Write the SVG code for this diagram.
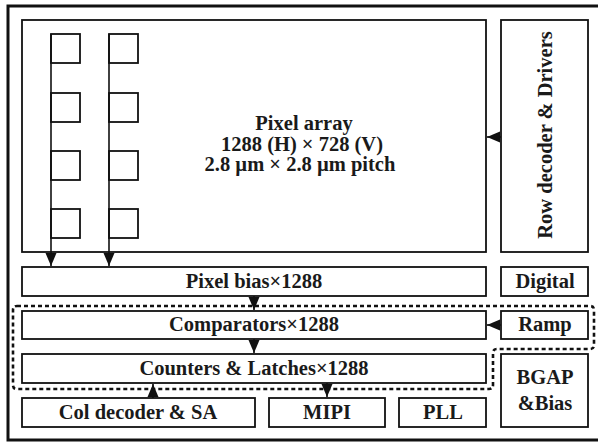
<svg xmlns="http://www.w3.org/2000/svg" width="598" height="443" viewBox="0 0 598 443">
<style>
.box{fill:#fff;stroke:#111;stroke-width:1.8}
.px{fill:none;stroke:#111;stroke-width:1.8}
.lbl{font-family:"Liberation Serif","Times New Roman",serif;font-weight:bold;font-size:20.5px;fill:#1a1a1a;text-anchor:middle}
.conn{stroke:#111;stroke-width:1.6;fill:none}
</style>
<defs>
<marker id="ah" markerUnits="userSpaceOnUse" markerWidth="13" markerHeight="12" viewBox="0 0 13 12" refX="13" refY="6" orient="auto">
<path d="M0,0.5 L13,6 L0,11.5 Z" fill="#111"/>
</marker>
</defs>
<rect x="0" y="0" width="598" height="443" fill="#fff"/>
<rect id="frame" x="8" y="6" width="600" height="434" fill="none" stroke="#111" stroke-width="3"/>

<g id="pixel-array">
<rect class="box" x="22" y="20" width="464" height="232"/>
<g class="px">
<rect x="51" y="34" width="29" height="29"/><rect x="109" y="34" width="29" height="29"/>
<rect x="51" y="93" width="29" height="29"/><rect x="109" y="93" width="29" height="29"/>
<rect x="51" y="151" width="29" height="29"/><rect x="109" y="151" width="29" height="29"/>
<rect x="51" y="209" width="29" height="29"/><rect x="109" y="209" width="29" height="29"/>
</g>
<text class="lbl" x="304" y="130">Pixel array</text>
<text class="lbl" x="302" y="151">1288 (H) × 728 (V)</text>
<text class="lbl" x="300" y="171">2.8 µm × 2.8 µm pitch</text>
</g>

<g id="row-decoder">
<rect class="box" x="501" y="20" width="87" height="232"/>
<text class="lbl" transform="translate(552,135) rotate(-90)">Row decoder &amp; Drivers</text>
</g>

<g id="pixel-bias">
<rect class="box" x="22" y="267" width="464" height="29"/>
<text class="lbl" x="254" y="288">Pixel bias×1288</text>
</g>
<g id="digital">
<rect class="box" x="501" y="267" width="87" height="29"/>
<text class="lbl" x="545" y="288">Digital</text>
</g>
<g id="comparators">
<rect class="box" x="22" y="311" width="464" height="28"/>
<text class="lbl" x="254" y="331">Comparators×1288</text>
</g>
<g id="ramp">
<rect class="box" x="501" y="311" width="87" height="28"/>
<text class="lbl" x="545" y="331">Ramp</text>
</g>
<g id="counters">
<rect class="box" x="22" y="354" width="464" height="29"/>
<text class="lbl" x="254" y="375">Counters &amp; Latches×1288</text>
</g>
<g id="bgap">
<rect class="box" x="501" y="354" width="87" height="73"/>
<text class="lbl" x="545" y="384">BGAP</text>
<text class="lbl" x="545" y="410">&amp;Bias</text>
</g>
<g id="col-decoder">
<rect class="box" x="22" y="398" width="233" height="29"/>
<text class="lbl" x="138" y="419">Col decoder &amp; SA</text>
</g>
<g id="mipi">
<rect class="box" x="269" y="398" width="116" height="29"/>
<text class="lbl" x="327" y="419">MIPI</text>
</g>
<g id="pll">
<rect class="box" x="399" y="398" width="87" height="29"/>
<text class="lbl" x="443" y="419">PLL</text>
</g>

<g id="adc-boundary">
<path d="M17,306 H590 Q594,306 594,310 V345 Q594,349 590,349 H497 Q493,349 493,353 V385 Q493,389 489,389 H17 Q13,389 13,385 V310 Q13,306 17,306 Z" fill="none" stroke="#111" stroke-width="2.6" stroke-dasharray="4 3"/>
</g>

<g id="connectors">
<line class="conn" x1="51" y1="34" x2="51" y2="266" marker-end="url(#ah)"/>
<line class="conn" x1="109" y1="34" x2="109" y2="266" marker-end="url(#ah)"/>
<line class="conn" x1="501" y1="137" x2="487" y2="137" marker-end="url(#ah)"/>
<line class="conn" x1="501" y1="325" x2="487" y2="325" marker-end="url(#ah)"/>
<line class="conn" x1="254" y1="296" x2="254" y2="310" marker-end="url(#ah)"/>
<line class="conn" x1="254" y1="339" x2="254" y2="353" marker-end="url(#ah)"/>
<line class="conn" x1="153" y1="398" x2="153" y2="384" marker-end="url(#ah)"/>
<line class="conn" x1="327" y1="383" x2="327" y2="397" marker-end="url(#ah)"/>
</g>
</svg>
